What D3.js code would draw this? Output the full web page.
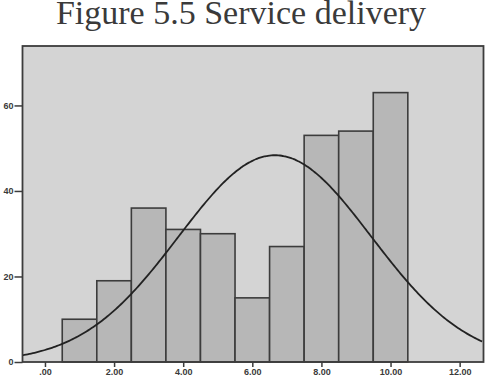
<!DOCTYPE html>
<html>
<head>
<meta charset="utf-8">
<script src="https://cdn.jsdelivr.net/npm/d3@7"></script>
<style>
  html, body { margin: 0; padding: 0; background: #ffffff; }
  svg { display: block; }
</style>
</head>
<body>
<svg id="chart" width="491" height="381"></svg>
<script>
const title = "Figure 5.5 Service delivery";
const binCenters = [1, 2, 3, 4, 5, 6, 7, 8, 9, 10];
const frequencies = [10, 19, 36, 31, 30, 15, 27, 53, 54, 63];
const xTicks = [0, 2, 4, 6, 8, 10, 12];
const xTickLabels = [".00", "2.00", "4.00", "6.00", "8.00", "10.00", "12.00"];
const yTicks = [0, 20, 40, 60];
const yTickLabels = ["0", "20", "40", "60"];

const svg = d3.select("#chart");
const plot = { left: 22.5, right: 483.5, top: 46, bottom: 362 };

const x = d3.scaleLinear().domain([-0.65, 12.69]).range([plot.left, plot.right]);
const y = d3.scaleLinear().domain([0, 73.9]).range([plot.bottom, plot.top]);

// Title
svg.append("text")
  .attr("x", 241).attr("y", 24)
  .attr("text-anchor", "middle")
  .attr("font-family", "Liberation Serif, Times New Roman, serif")
  .attr("font-size", 34)
  .attr("fill", "#3a3a3a")
  .text(title);

// Plot background
svg.append("rect")
  .attr("x", plot.left).attr("y", plot.top)
  .attr("width", plot.right - plot.left).attr("height", plot.bottom - plot.top)
  .attr("fill", "#d4d4d4");

// Bars
svg.append("g").selectAll("rect")
  .data(binCenters)
  .join("rect")
  .attr("x", (d) => x(d - 0.5))
  .attr("y", (d, i) => y(frequencies[i]))
  .attr("width", (d) => x(d + 0.5) - x(d - 0.5))
  .attr("height", (d, i) => y(0) - y(frequencies[i]))
  .attr("fill", "#b7b7b7")
  .attr("stroke", "#3c3c3c")
  .attr("stroke-width", 1.6);

// Normal curve fitted to the binned data
const n = d3.sum(frequencies);
const mean = d3.sum(binCenters.map((c, i) => c * frequencies[i])) / n;
const variance = d3.sum(binCenters.map((c, i) => (c - mean) ** 2 * frequencies[i])) / (n - 1);
const sd = Math.sqrt(variance);
const xs = d3.range(x.domain()[0], x.domain()[1] + 0.001, 0.05);
const curve = d3.line()
  .x((v) => x(v))
  .y((v) => y(n / (sd * Math.sqrt(2 * Math.PI)) * Math.exp(-0.5 * ((v - mean) / sd) ** 2)))
  .curve(d3.curveMonotoneX);
svg.append("path")
  .datum(xs)
  .attr("d", curve)
  .attr("fill", "none")
  .attr("stroke", "#222")
  .attr("stroke-width", 1.8);

// Frame
svg.append("rect")
  .attr("x", plot.left).attr("y", plot.top)
  .attr("width", plot.right - plot.left).attr("height", plot.bottom - plot.top)
  .attr("fill", "none")
  .attr("stroke", "#3c3c3c")
  .attr("stroke-width", 1.8);

// Y axis
const yAxis = d3.axisLeft(y).tickValues(yTicks).tickSize(8).tickPadding(1)
  .tickFormat((d, i) => yTickLabels[i]);
const gy = svg.append("g").attr("transform", `translate(${plot.left},0)`).call(yAxis);
gy.select(".domain").remove();
gy.selectAll(".tick line").attr("stroke", "#3c3c3c").attr("stroke-width", 1.5);
gy.selectAll(".tick text")
  .attr("font-family", "Liberation Sans, Arial, sans-serif")
  .attr("font-size", 9).attr("font-weight", "bold").attr("fill", "#3a3a3a");

// X axis
const xAxis = d3.axisBottom(x).tickValues(xTicks).tickSize(5).tickPadding(2)
  .tickFormat((d, i) => xTickLabels[i]);
const gx = svg.append("g").attr("transform", `translate(0,${plot.bottom})`).call(xAxis);
gx.select(".domain").remove();
gx.selectAll(".tick line").attr("stroke", "#3c3c3c").attr("stroke-width", 1.5);
gx.selectAll(".tick text")
  .attr("font-family", "Liberation Sans, Arial, sans-serif")
  .attr("font-size", 9).attr("font-weight", "bold").attr("fill", "#3a3a3a");
</script>
</body>
</html>
